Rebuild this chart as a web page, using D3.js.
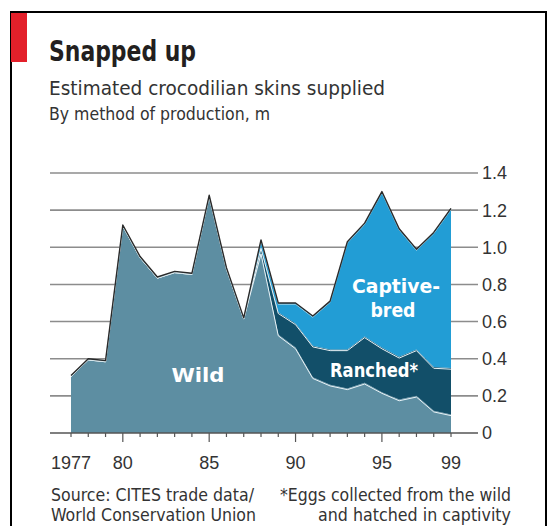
<!DOCTYPE html>
<html>
<head>
<meta charset="utf-8">
<script src="https://cdn.jsdelivr.net/npm/d3@7/dist/d3.min.js"></script>
<style>
  html, body { margin: 0; padding: 0; background: #fff; }
  svg { display: block; }
  .narrow { font-family: "DejaVu Sans Condensed", "DejaVu Sans", sans-serif; }
  .digits { font-family: "Liberation Sans", Arial, sans-serif; }
</style>
</head>
<body>
<svg id="chart" width="555" height="526"></svg>
<script>
// Crocodilian skins supplied, millions, by method of production
const years = d3.range(1977, 2000);
const wild     = [0.31, 0.40, 0.39, 1.12, 0.95, 0.84, 0.87, 0.86, 1.28, 0.89, 0.62, 0.97,
                  0.53, 0.46, 0.30, 0.26, 0.24, 0.27, 0.22, 0.18, 0.20, 0.12, 0.10];
const ranched  = [0, 0, 0, 0, 0, 0, 0, 0, 0, 0, 0, 0.03,
                  0.12, 0.13, 0.17, 0.19, 0.21, 0.25, 0.24, 0.23, 0.25, 0.235, 0.25];
const captive  = [0, 0, 0, 0, 0, 0, 0, 0, 0, 0, 0, 0.04,
                  0.05, 0.11, 0.16, 0.26, 0.58, 0.61, 0.84, 0.69, 0.54, 0.725, 0.86];
const yTicks = [0, 0.2, 0.4, 0.6, 0.8, 1.0, 1.2, 1.4];
const yTickLabels = ["0", "0.2", "0.4", "0.6", "0.8", "1.0", "1.2", "1.4"];
const xMajor = [1980, 1985, 1990, 1995];
const xLabels = [[1977, "1977"], [1980, "80"], [1985, "85"], [1990, "90"], [1995, "95"], [1999, "99"]];

const keys = ["wild", "ranched", "captive"];
const colors = { wild: "#5d8ea2", ranched: "#124f69", captive: "#229dd5" };

const rows = years.map((yr, i) => ({ year: yr, wild: wild[i], ranched: ranched[i], captive: captive[i] }));
const series = d3.stack().keys(keys)(rows);

const svg = d3.select("#chart");

const x = d3.scaleLinear().domain([1977, 1999]).range([71, 451]);
const y = d3.scaleLinear().domain([0, 1.4]).range([433, 173]);

// squeeze a text run to a set width, keeping its height
function fit(sel, w) {
  return sel.attr("textLength", w).attr("lengthAdjust", "spacingAndGlyphs");
}

// frame and red tab
svg.append("rect").attr("x", 11).attr("y", 12).attr("width", 535).attr("height", 600)
  .attr("fill", "none").attr("stroke", "#000").attr("stroke-width", 2);
svg.append("rect").attr("x", 11).attr("y", 13).attr("width", 16).attr("height", 49).attr("fill", "#e3202a");

// headings
fit(svg.append("text").attr("class", "narrow").attr("x", 49).attr("y", 61)
  .attr("font-size", 28).attr("font-weight", "bold").attr("fill", "#231f20").text("Snapped up"), 147);
fit(svg.append("text").attr("class", "narrow").attr("x", 49).attr("y", 95)
  .attr("font-size", 20).attr("fill", "#333").text("Estimated crocodilian skins supplied"), 336);
fit(svg.append("text").attr("class", "narrow").attr("x", 49).attr("y", 120)
  .attr("font-size", 17).attr("fill", "#333").text("By method of production, m"), 221);

// horizontal gridlines
svg.append("g").selectAll("line").data(yTicks.filter(d => d > 0)).join("line")
  .attr("x1", 50).attr("x2", 478)
  .attr("y1", d => y(d)).attr("y2", d => y(d))
  .attr("stroke", "#8c8c8c").attr("stroke-width", 1.6);

// stacked areas
const area = d3.area().x(d => x(d.data.year)).y0(d => y(d[0])).y1(d => y(d[1]));
svg.append("g").selectAll("path").data(series).join("path")
  .attr("d", area).attr("fill", d => colors[d.key]);

// white lines along each layer's upper edge
const edge = d3.line().x(d => x(d.data.year)).y(d => y(d[1]));
svg.append("g").attr("transform", "translate(0,1.2)").selectAll("path")
  .data(series.slice(0, 2)).join("path")
  .attr("d", edge).attr("fill", "none").attr("stroke", "#e8f2f6").attr("stroke-width", 1);
svg.append("path").datum(series[2]).attr("d", edge)
  .attr("transform", "translate(0,1.2)")
  .attr("fill", "none").attr("stroke", "#cfe3ea").attr("stroke-width", 0.8);

// dark outline on the total
svg.append("path").datum(series[2]).attr("d", edge)
  .attr("fill", "none").attr("stroke", "#2a2a2a").attr("stroke-width", 1.4)
  .attr("stroke-linejoin", "round");

// baseline and year ticks
svg.append("line").attr("x1", 50).attr("x2", 478).attr("y1", y(0)).attr("y2", y(0))
  .attr("stroke", "#555").attr("stroke-width", 1.6);
svg.append("g").selectAll("line").data(years).join("line")
  .attr("x1", d => x(d)).attr("x2", d => x(d))
  .attr("y1", y(0)).attr("y2", d => y(0) + (xMajor.includes(d) ? 9 : 4))
  .attr("stroke", "#555").attr("stroke-width", 1.2);

// axis labels
svg.append("g").selectAll("text").data(yTicks).join("text")
  .attr("class", "digits").attr("x", 482).attr("y", d => y(d)).attr("dy", "0.36em")
  .attr("font-size", 18).attr("fill", "#333").text((d, i) => yTickLabels[i]);
svg.append("g").selectAll("text").data(xLabels).join("text")
  .attr("class", "digits").attr("x", d => x(d[0])).attr("y", 469)
  .attr("text-anchor", "middle").attr("font-size", 18).attr("fill", "#333").text(d => d[1]);

// series labels
const lab = svg.append("g").attr("class", "narrow").attr("fill", "#fff")
  .attr("font-weight", "bold").attr("font-size", 20).attr("text-anchor", "middle");
fit(lab.append("text").attr("x", 198).attr("y", 382).text("Wild"), 53);
fit(lab.append("text").attr("x", 396).attr("y", 293).text("Captive-"), 88);
fit(lab.append("text").attr("x", 393).attr("y", 317).text("bred"), 45);
fit(lab.append("text").attr("x", 374).attr("y", 377).text("Ranched*"), 88);

// source and footnote
const foot = svg.append("g").attr("class", "narrow").attr("font-size", 18).attr("fill", "#333");
fit(foot.append("text").attr("x", 51).attr("y", 501).text("Source: CITES trade data/"), 203);
fit(foot.append("text").attr("x", 51).attr("y", 521).text("World Conservation Union"), 205);
fit(foot.append("text").attr("x", 511).attr("y", 501).attr("text-anchor", "end").text("*Eggs collected from the wild"), 231);
fit(foot.append("text").attr("x", 511).attr("y", 521).attr("text-anchor", "end").text("and hatched in captivity"), 193);
</script>
</body>
</html>
